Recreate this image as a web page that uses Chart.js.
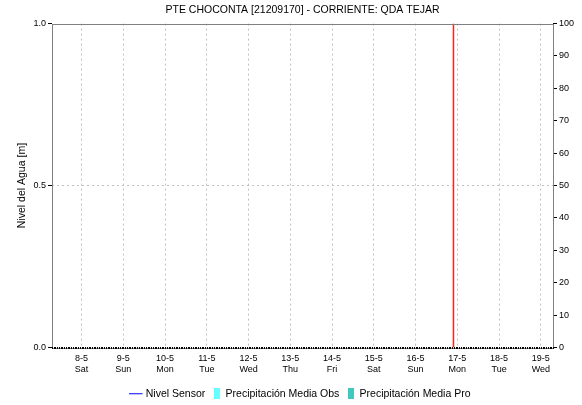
<!DOCTYPE html>
<html lang="es">
<head>
  <meta charset="UTF-8" />
  <title>PTE CHOCONTA [21209170]</title>
  <script src="https://cdn.jsdelivr.net/npm/chart.js"></script>
  <style>
    * { margin: 0; padding: 0; box-sizing: border-box; }
    body { background: #fff; width: 582px; height: 405px; overflow: hidden; }
    #chart { display: block; }
  </style>
</head>
<body>
  <canvas id="chart" width="582" height="405"></canvas>
  <script>
    // x values are day-of-month (May), fractional part = time of day
    const dayTicks = [8, 9, 10, 11, 12, 13, 14, 15, 16, 17, 18, 19];
    const dayNames = ["Sat", "Sun", "Mon", "Tue", "Wed", "Thu", "Fri", "Sat", "Sun", "Mon", "Tue", "Wed"];
    const xStart = 7 + 7 / 24;
    const xEnd = 19 + 7 / 24;

    // no readings in the window
    const nivelSensor = [];
    const precipObs = [];
    const precipPro = [];

    // current-time marker (16-5 ~21:48)
    const nowMarker = 16.908;

    const FONT = "'Liberation Sans', Arial, sans-serif";

    // small legend swatches; the line one sits left in its canvas so it clears the text
    function legendIcon(w, h, color, lineLen) {
      const c = document.createElement("canvas");
      c.width = w; c.height = h;
      const g = c.getContext("2d");
      g.fillStyle = color;
      if (lineLen) g.fillRect(0, Math.floor(h / 2), lineLen, 1);
      else g.fillRect(0, 0, w, h);
      return c;
    }

    const plotBorder = {
      id: "plotBorder",
      afterDraw(chart) {
        const a = chart.chartArea, c = chart.ctx;
        c.save();
        c.strokeStyle = "#808080";
        c.lineWidth = 1;
        c.strokeRect(Math.round(a.left) + 0.5, Math.round(a.top) + 0.5,
          Math.round(a.right - a.left), Math.round(a.bottom - a.top));
        // hourly minor ticks along the time axis
        const xs = chart.scales.x;
        c.fillStyle = "#000";
        for (let t = Math.ceil(xStart * 24); t <= xEnd * 24; t++) {
          const px = Math.round(xs.getPixelForValue(t / 24));
          c.fillRect(px, Math.round(a.bottom) - 1, 1, 2);
        }
        c.restore();
      }
    };

    new Chart(document.getElementById("chart"), {
      type: "line",
      data: {
        datasets: [
          {
            label: "Nivel Sensor",
            data: nivelSensor,
            borderColor: "#0000ff",
            borderWidth: 1,
            pointRadius: 0,
            yAxisID: "y",
            legendIcon: legendIcon(18, 3, "#0000ff", 14)
          },
          {
            type: "bar",
            label: "Precipitación Media Obs",
            data: precipObs,
            backgroundColor: "#66ffff",
            yAxisID: "y1",
            legendIcon: legendIcon(6, 11, "#66ffff")
          },
          {
            type: "bar",
            label: "Precipitación Media Pro",
            data: precipPro,
            backgroundColor: "#40c8c0",
            yAxisID: "y1",
            legendIcon: legendIcon(6, 11, "#40c8c0")
          },
          {
            label: "now",
            data: [{ x: nowMarker, y: 0 }, { x: nowMarker, y: 1 }],
            borderColor: "#ff2020",
            borderWidth: 1.5,
            pointRadius: 0,
            yAxisID: "y"
          }
        ]
      },
      options: {
        responsive: false,
        animation: false,
        layout: { padding: { top: 0, bottom: -4, left: 0, right: 0 } },
        plugins: {
          title: {
            display: true,
            fullSize: false,
            text: "PTE CHOCONTA [21209170] - CORRIENTE: QDA TEJAR",
            color: "#000",
            font: { family: FONT, size: 10.5, weight: "normal" },
            padding: { top: 4, bottom: 7 }
          },
          legend: {
            position: "bottom",
            fullSize: false,
            labels: {
              color: "#000",
              font: { family: FONT, size: 10.5 },
              usePointStyle: true,
              pointStyleWidth: 6,
              boxHeight: 11,
              padding: 9,
              filter: item => item.text !== "now",
              generateLabels(chart) {
                return chart.data.datasets.map((ds, i) => ({
                  text: ds.label,
                  datasetIndex: i,
                  pointStyle: ds.legendIcon,
                  fillStyle: "transparent",
                  strokeStyle: "transparent",
                  lineWidth: 0,
                  fontColor: "#000"
                }));
              }
            }
          },
          tooltip: { enabled: false }
        },
        scales: {
          x: {
            type: "linear",
            min: xStart,
            max: xEnd,
            offset: false,
            afterBuildTicks(scale) { scale.ticks = dayTicks.map(v => ({ value: v })); },
            afterFit(scale) { scale.height = 32; },
            ticks: {
              color: "#000",
              font: { family: FONT, size: 9 },
              padding: 2.5,
              maxRotation: 0,
              autoSkip: false,
              callback: v => {
                const i = dayTicks.indexOf(v);
                return i < 0 ? "" : [v + "-5", dayNames[i]];
              }
            },
            grid: {
              offset: false,
              color: "#c0c0c0",
              tickLength: 3,
              tickColor: "transparent",
              lineWidth: 1
            },
            border: { display: false, dash: [2, 3] }
          },
          y: {
            position: "left",
            min: 0,
            max: 1,
            afterBuildTicks(scale) { scale.ticks = [0, 0.5, 1].map(v => ({ value: v })); },
            afterFit(scale) { scale.width = 52; },
            title: {
              display: true,
              text: "Nivel del Agua [m]",
              color: "#000",
              font: { family: FONT, size: 10.5 },
              padding: { top: 16, bottom: 0 }
            },
            ticks: {
              color: "#000",
              font: { family: FONT, size: 9 },
              padding: 2,
              callback: v => v.toFixed(1)
            },
            grid: {
              color: ctx => (ctx.tick && ctx.tick.value === 0.5 ? "#c0c0c0" : "transparent"),
              tickColor: "#000",
              tickLength: 4
            },
            border: { display: false, dash: [2, 3] }
          },
          y1: {
            position: "right",
            min: 0,
            max: 100,
            afterFit(scale) { scale.width = 29; },
            ticks: {
              stepSize: 10,
              color: "#000",
              font: { family: FONT, size: 9 },
              padding: 2
            },
            grid: {
              drawOnChartArea: false,
              tickColor: "#000",
              tickLength: 4
            },
            border: { display: false }
          }
        }
      },
      plugins: [plotBorder]
    });
  </script>
</body>
</html>
